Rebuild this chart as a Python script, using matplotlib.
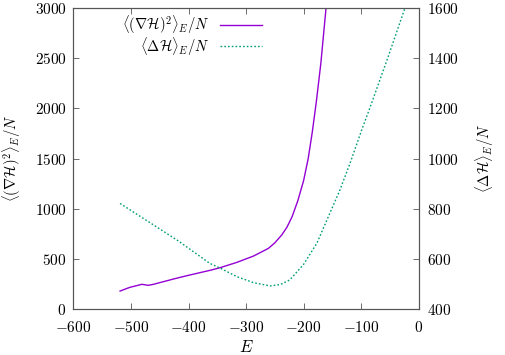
import matplotlib
matplotlib.use("Agg")
import matplotlib.pyplot as plt
from matplotlib.ticker import FuncFormatter

plt.rcParams['mathtext.fontset'] = 'cm'
plt.rcParams['font.family'] = 'DejaVu Serif'
plt.rcParams['font.size'] = 10

# <(grad H)^2>_E / N  (left axis)
E_grad = [-519, -502, -481, -470, -461, -440, -420, -400, -363, -345, -316, -287, -261,
          -250, -238, -229, -220, -210, -200, -192, -185, -178, -170, -161]
grad = [179, 216, 246, 236, 246, 278, 308, 336, 385, 412, 465, 528, 605,
        660, 738, 815, 920, 1080, 1280, 1500, 1760, 2060, 2450, 3000]

# <Delta H>_E / N  (right axis)
E_lap = [-519, -479, -420, -363, -345, -316, -287, -258, -240, -224, -200, -177,
         -157, -137, -119, -99, -84, -55, -24]
lap = [821, 762, 675, 582, 563, 529, 505, 492, 498, 516, 578, 662,
       768, 874, 983, 1114, 1207, 1393, 1599]

fig = plt.figure(figsize=(5.05, 3.55), dpi=100)
ax = fig.add_axes([0.1455, 0.1296, 0.6835, 0.8474])
ax2 = ax.twinx()

l1, = ax.plot(E_grad, grad, color='#9400d3', lw=1.0,
              label=r'$\langle(\nabla\mathcal{H})^2\rangle_E/N$')
l2, = ax2.plot(E_lap, lap, color='#009e73', lw=1.0, ls=(0, (1.2, 1.5)),
               label=r'$\langle\Delta\mathcal{H}\rangle_E/N$')

ax.set_xlim(-600, 0)
ax.set_ylim(0, 3000)
ax2.set_ylim(400, 1600)
ax.set_xticks(range(-600, 1, 100))
ax.set_yticks(range(0, 3001, 500))
ax2.set_yticks(range(400, 1601, 200))

fmt = FuncFormatter(lambda v, p: r'$%d$' % v)
ax.xaxis.set_major_formatter(fmt)
ax.yaxis.set_major_formatter(fmt)
ax2.yaxis.set_major_formatter(fmt)

for a in (ax, ax2):
    for s in a.spines.values():
        s.set_color('#555555')
        s.set_linewidth(0.8)
ax.tick_params(direction='in', length=4, width=0.6, color='#555555',
               top=True, right=False, labelsize=11)
ax.tick_params(axis='x', pad=8)
ax.tick_params(axis='y', pad=5)
ax2.tick_params(direction='in', length=4, width=0.6, color='#555555',
                labelsize=11, pad=6)

ax.set_xlabel(r'$E$', fontsize=12, labelpad=3)
ax.set_ylabel(r'$\langle(\nabla\mathcal{H})^2\rangle_E/N$', fontsize=10.5, labelpad=8)
ax2.set_ylabel(r'$\langle\Delta\mathcal{H}\rangle_E/N$', fontsize=10.5, labelpad=10)

leg = ax.legend(handles=[l1, l2], loc='upper left', bbox_to_anchor=(0.116, 1.012),
                frameon=False, markerfirst=False, fontsize=10.5, handlelength=2.9,
                handletextpad=0.7, labelspacing=-0.1, borderaxespad=0.2)
for t in leg.get_texts():
    t.set_ha('right')
leg._legend_box.align = 'right'

fig.savefig('out.png', dpi=100)
